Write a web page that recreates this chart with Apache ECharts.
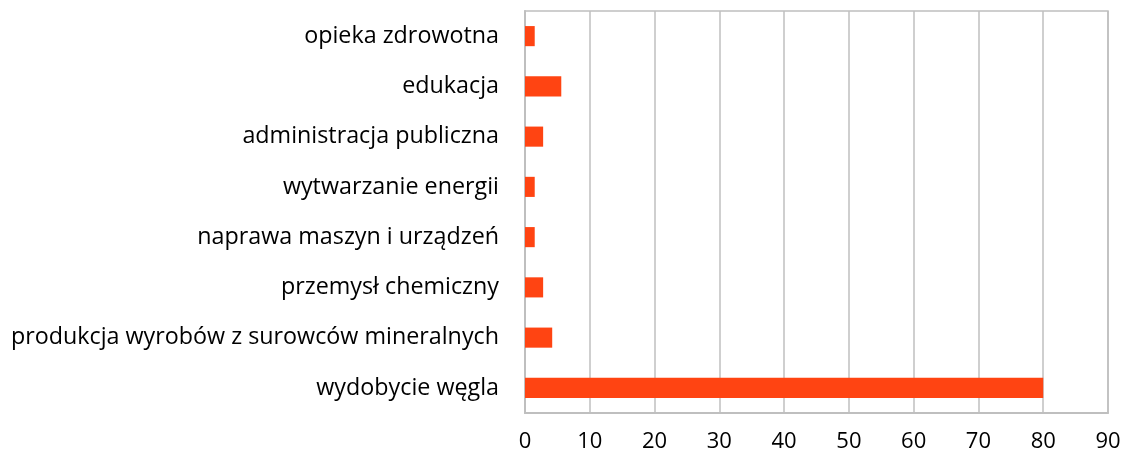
<!DOCTYPE html>
<html>
<head>
<meta charset="utf-8">
<script src="https://cdn.jsdelivr.net/npm/echarts@6/dist/echarts.min.js"></script>
<style>
html,body{margin:0;padding:0;background:#fff;}
#chart{width:1124px;height:459px;}
</style>
</head>
<body>
<div id="chart"></div>
<script>
// Sectors, listed bottom to top as the category axis draws them
var categories = [
  'wydobycie węgla',
  'produkcja wyrobów z surowców mineralnych',
  'przemysł chemiczny',
  'naprawa maszyn i urządzeń',
  'wytwarzanie energii',
  'administracja publiczna',
  'edukacja',
  'opieka zdrowotna'
];
var values = [80, 4.2, 2.8, 1.5, 1.5, 2.8, 5.6, 1.5];
var xTicks = [0, 10, 20, 30, 40, 50, 60, 70, 80, 90];

var gridColor = '#bfbfbf';
var chart = echarts.init(document.getElementById('chart'), null, {renderer: 'canvas'});
chart.setOption({
  animation: false,
  grid: {left: 525, right: 16, top: 11, bottom: 46, containLabel: false, show: true, borderColor: gridColor, borderWidth: 1.5},
  xAxis: {
    type: 'value',
    min: xTicks[0],
    max: xTicks[xTicks.length - 1],
    interval: 10,
    axisLine: {show: true, lineStyle: {color: gridColor, width: 2}},
    axisTick: {show: false},
    splitLine: {show: true, lineStyle: {color: gridColor, width: 1.5}},
    axisLabel: {color: '#000', fontSize: 22, fontFamily: 'Open Sans', margin: 18}
  },
  yAxis: {
    type: 'category',
    data: categories,
    axisLine: {show: true, lineStyle: {color: gridColor, width: 2}},
    axisTick: {show: false},
    axisLabel: {color: '#000', fontSize: 23.3, fontFamily: 'Open Sans', margin: 26, padding: [3, 0, 0, 0]}
  },
  series: [{
    type: 'bar',
    data: values,
    barWidth: '40%',
    itemStyle: {color: '#FF4412'}
  }]
});
</script>
</body>
</html>
